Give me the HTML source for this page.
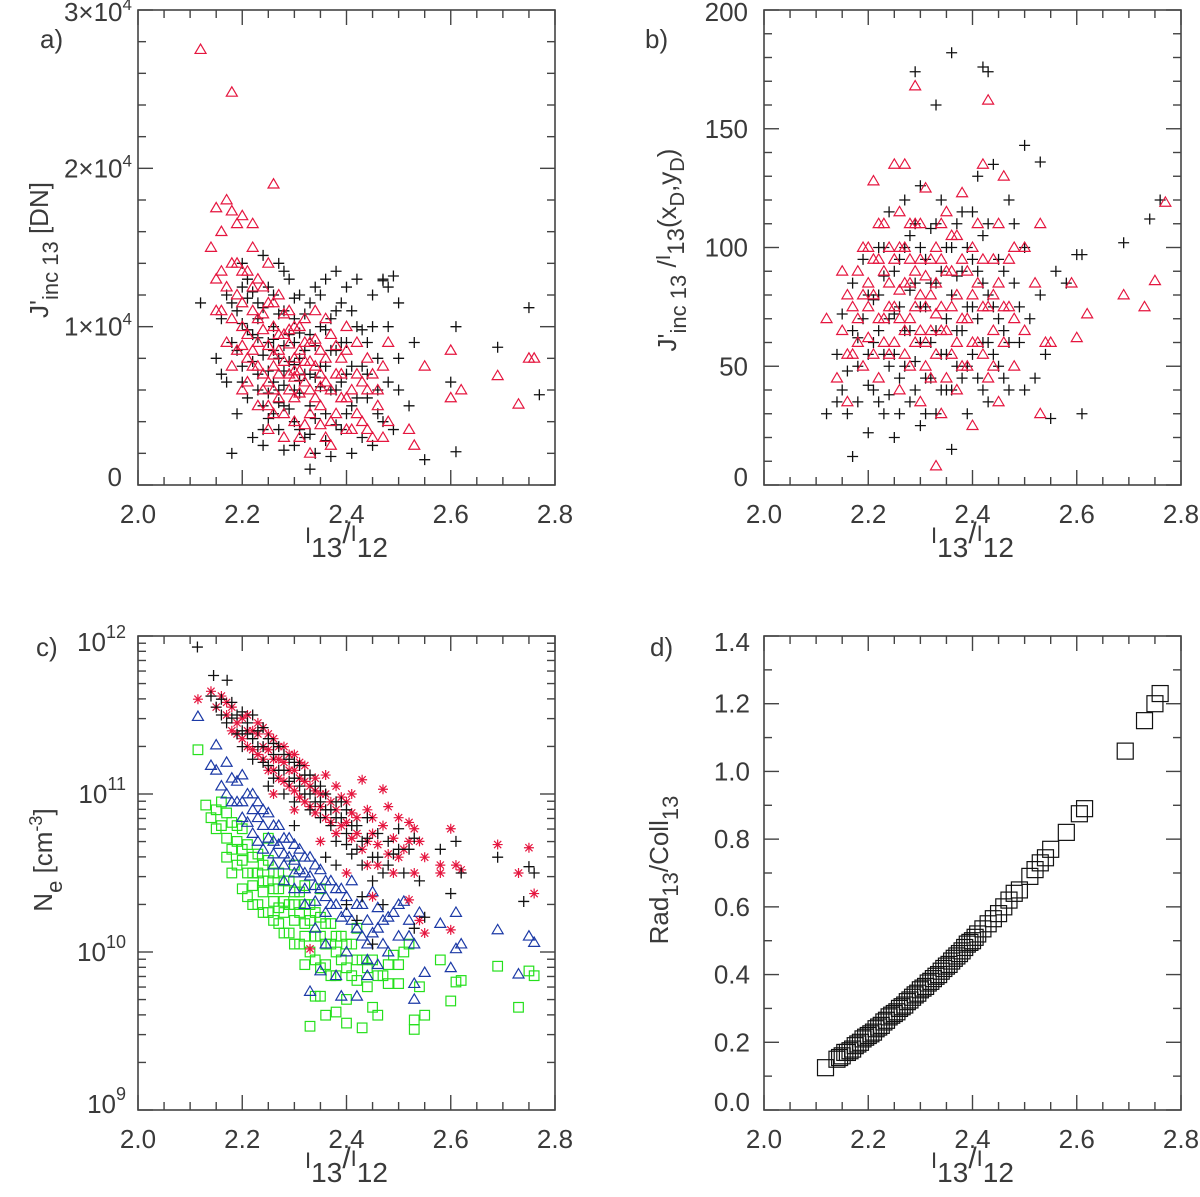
<!DOCTYPE html>
<html><head><meta charset="utf-8">
<style>
html,body{margin:0;padding:0;background:#fff;}
svg{display:block;font-family:"Liberation Sans",sans-serif;}
.tk{font-size:26px;fill:#3a3a3a;}
</style></head>
<body>
<svg id="fig" width="1200" height="1197" viewBox="0 0 1200 1197" xmlns="http://www.w3.org/2000/svg"></svg>
<script>
// ---------- data ----------
const xTicks=[2.0,2.2,2.4,2.6,2.8];
const xTickLabels=["2.0","2.2","2.4","2.6","2.8"];
const aYTicks=[0,10000,20000,30000];
const bYTicks=[0,50,100,150,200];
const bYTickLabels=["0","50","100","150","200"];
const cYTicks=[9,10,11,12];
const dYTicks=[0,0.2,0.4,0.6,0.8,1.0,1.2,1.4];
const dYTickLabels=["0.0","0.2","0.4","0.6","0.8","1.0","1.2","1.4"];

// panel a (values in units of 1e3 DN)
const aBlack=[[2.15,8],[2.16,10.5],[2.17,12],[2.17,6.5],[2.18,2],[2.18,9],[2.19,11],[2.19,4.5],[2.2,14],[2.2,7.5],[2.21,13],[2.21,5.5],[2.22,9.5],[2.22,3],[2.23,11.5],[2.23,7],[2.24,14.5],[2.24,5],[2.24,2.5],[2.25,9],[2.25,12.5],[2.26,6.5],[2.26,10],[2.27,3.5],[2.27,14],[2.27,8],[2.28,5],[2.28,11],[2.28,2.2],[2.29,9.5],[2.29,13],[2.3,6],[2.3,4],[2.3,10.5],[2.31,8],[2.31,12],[2.32,3],[2.32,7],[2.33,1],[2.33,9.5],[2.33,5],[2.34,12.5],[2.34,2],[2.35,7.5],[2.35,10],[2.36,4.5],[2.36,13],[2.37,8.5],[2.37,1.8],[2.38,6],[2.38,11],[2.39,3.5],[2.39,9],[2.4,12.5],[2.4,7],[2.41,2],[2.41,5],[2.42,10],[2.42,13],[2.43,7.5],[2.43,3],[2.44,9],[2.44,5.5],[2.45,12],[2.45,2.5],[2.46,8],[2.46,6],[2.47,4],[2.47,13],[2.48,10],[2.48,6.5],[2.49,3.5],[2.5,8],[2.5,11.5],[2.52,5],[2.53,9],[2.55,1.6],[2.2,10.2],[2.26,8.5],[2.3,7.6],[2.34,6.8],[2.23,9.3],[2.28,7.2],[2.31,5.8],[2.36,9.8],[2.4,4.5],[2.21,11.8],[2.25,4.2],[2.12,11.5],[2.75,11.2],[2.77,5.7],[2.69,8.7],[2.61,10.0],[2.61,2.1],[2.49,13.2],[2.47,12.9],[2.6,6.5]];
const aBlackDense=[[2.19,8.5],[2.2,6.5],[2.21,9.8],[2.22,7.8],[2.22,12.2],[2.23,6],[2.23,10.5],[2.24,8.2],[2.24,11.2],[2.25,7.2],[2.25,5.8],[2.26,9.2],[2.26,4.5],[2.26,12],[2.27,6],[2.27,10.8],[2.28,8.8],[2.28,6.3],[2.28,13.5],[2.29,7.8],[2.29,4.8],[2.3,9],[2.3,11.8],[2.31,6.6],[2.31,9.6],[2.31,3.5],[2.32,8.5],[2.32,10.8],[2.33,7],[2.33,11.5],[2.34,8.8],[2.34,4.2],[2.35,6.2],[2.35,12],[2.36,7.5],[2.36,2.8],[2.37,6],[2.37,10.5],[2.38,8.5],[2.38,3.8],[2.39,6.5],[2.39,11.5],[2.4,9],[2.41,7.5],[2.41,11],[2.42,5.5],[2.43,9.8],[2.44,7],[2.45,10],[2.46,4.5],[2.48,12.5],[2.5,6],[2.2,12.5],[2.18,11.5],[2.16,7],[2.24,3.5],[2.3,2.5],[2.27,5.2],[2.33,3.2],[2.38,13.5]];
const aRed=[[2.14,15],[2.15,13],[2.16,11],[2.16,16],[2.17,9],[2.18,14],[2.18,7.5],[2.19,12],[2.19,16.5],[2.2,10],[2.2,6],[2.21,13.5],[2.21,8],[2.22,15],[2.22,11],[2.23,5],[2.23,9],[2.24,12.5],[2.24,7],[2.25,14],[2.25,3.5],[2.26,10],[2.26,6],[2.27,8.5],[2.27,12],[2.28,4.5],[2.28,9.5],[2.29,7],[2.29,11],[2.3,5.5],[2.3,8],[2.31,3],[2.31,10],[2.32,6.5],[2.32,9],[2.33,2],[2.33,4.5],[2.34,7.5],[2.34,11],[2.35,5],[2.35,8.5],[2.36,3],[2.36,6.5],[2.37,9.5],[2.37,2.5],[2.38,7],[2.38,4.5],[2.39,8],[2.4,5.5],[2.4,10],[2.41,3.5],[2.42,7],[2.42,9],[2.43,4],[2.44,6],[2.44,8],[2.45,3],[2.46,5],[2.47,7.5],[2.48,4],[2.48,9],[2.2,8.8],[2.24,9.8],[2.27,7],[2.3,6.8],[2.33,7.8],[2.26,8.2],[2.22,7.5],[2.29,8.9],[2.35,6.2],[2.31,7.2],[2.25,6.5],[2.12,27.5],[2.18,24.8],[2.26,19.0],[2.17,18.0],[2.15,17.5],[2.18,17.3],[2.2,17.0],[2.22,16.5],[2.6,8.5],[2.69,6.9],[2.73,5.1],[2.75,8.0],[2.76,8.0],[2.55,7.5],[2.6,5.5],[2.62,6.0],[2.53,2.5],[2.52,3.5]];
const aRedDense=[[2.17,12.5],[2.18,10.5],[2.19,8.5],[2.2,11.5],[2.2,13.5],[2.21,9.5],[2.21,6.5],[2.22,8.5],[2.22,12.5],[2.23,10.5],[2.23,7.5],[2.24,6],[2.24,10.8],[2.25,8.8],[2.25,11.5],[2.25,5],[2.26,7.5],[2.26,11.5],[2.26,4.5],[2.27,9.5],[2.27,5.5],[2.28,7.8],[2.28,10.8],[2.28,3],[2.29,6],[2.29,9.8],[2.3,7.2],[2.3,10],[2.3,4],[2.31,8.5],[2.31,5.8],[2.32,7.8],[2.32,3.8],[2.32,10.5],[2.33,6],[2.33,9],[2.34,5.5],[2.34,9.2],[2.35,7],[2.35,3.8],[2.36,8],[2.36,10.5],[2.37,6],[2.37,4],[2.38,8.8],[2.39,5.5],[2.39,7],[2.4,3.5],[2.4,8.5],[2.41,6],[2.42,4.5],[2.43,6.5],[2.44,3.5],[2.45,7],[2.46,6],[2.47,3],[2.15,11],[2.16,13.5],[2.19,14],[2.23,13]];

// panel b
const bBlack=[[2.12,30],[2.14,55],[2.15,40],[2.15,72],[2.16,48],[2.17,12],[2.17,85],[2.18,35],[2.18,62],[2.19,95],[2.2,22],[2.2,55],[2.21,78],[2.21,40],[2.22,100],[2.22,65],[2.23,30],[2.23,88],[2.24,50],[2.24,115],[2.25,72],[2.25,20],[2.26,95],[2.26,45],[2.27,120],[2.27,65],[2.28,35],[2.28,82],[2.29,110],[2.29,52],[2.3,126],[2.3,25],[2.3,75],[2.31,95],[2.31,45],[2.32,60],[2.32,108],[2.33,30],[2.33,85],[2.34,120],[2.34,55],[2.35,70],[2.35,40],[2.36,100],[2.36,15],[2.37,65],[2.37,88],[2.38,45],[2.38,115],[2.39,75],[2.39,30],[2.4,95],[2.4,55],[2.41,130],[2.41,70],[2.42,85],[2.42,40],[2.43,110],[2.43,60],[2.44,75],[2.44,135],[2.45,50],[2.45,95],[2.46,65],[2.47,120],[2.47,40],[2.48,85],[2.49,60],[2.5,143],[2.5,100],[2.51,70],[2.52,45],[2.53,136],[2.53,80],[2.54,55],[2.55,28],[2.56,90],[2.58,85],[2.6,97],[2.61,97],[2.61,30],[2.69,102],[2.74,112],[2.76,120],[2.29,174],[2.36,182],[2.42,176],[2.43,174],[2.33,160]];
const bBlackDense=[[2.18,50],[2.19,70],[2.2,42],[2.2,80],[2.21,60],[2.22,35],[2.22,80],[2.23,55],[2.23,100],[2.24,70],[2.24,38],[2.25,90],[2.25,55],[2.26,75],[2.26,30],[2.27,100],[2.27,50],[2.28,65],[2.28,105],[2.29,40],[2.29,85],[2.3,60],[2.3,100],[2.31,75],[2.31,30],[2.32,85],[2.32,45],[2.33,65],[2.33,110],[2.34,40],[2.34,90],[2.35,55],[2.35,100],[2.36,80],[2.36,40],[2.37,110],[2.37,50],[2.38,90],[2.38,65],[2.39,100],[2.39,50],[2.4,75],[2.4,115],[2.41,45],[2.41,90],[2.42,60],[2.42,105],[2.43,80],[2.43,35],[2.44,55],[2.45,70],[2.46,90],[2.46,45],[2.47,60],[2.48,110],[2.49,75],[2.5,40],[2.16,30],[2.17,65],[2.14,35]];
const bRed=[[2.12,70],[2.14,45],[2.15,65],[2.16,80],[2.16,35],[2.17,55],[2.18,90],[2.18,70],[2.19,50],[2.2,100],[2.2,62],[2.21,128],[2.21,80],[2.22,45],[2.22,95],[2.23,70],[2.23,110],[2.24,55],[2.24,85],[2.25,135],[2.25,75],[2.26,40],[2.26,100],[2.27,135],[2.27,65],[2.28,85],[2.28,50],[2.29,168],[2.29,110],[2.29,75],[2.3,95],[2.3,35],[2.31,60],[2.31,125],[2.32,80],[2.32,45],[2.33,8],[2.33,100],[2.34,65],[2.34,30],[2.35,90],[2.35,115],[2.36,55],[2.36,75],[2.37,40],[2.37,105],[2.38,123],[2.38,70],[2.39,50],[2.39,90],[2.4,80],[2.4,25],[2.41,60],[2.41,110],[2.42,135],[2.42,75],[2.43,162],[2.43,45],[2.44,95],[2.44,65],[2.45,85],[2.45,35],[2.46,130],[2.46,60],[2.47,75],[2.48,100],[2.48,50],[2.5,100],[2.5,65],[2.52,85],[2.53,110],[2.53,30],[2.54,60],[2.55,60],[2.59,85],[2.6,62],[2.62,72],[2.69,80],[2.73,75],[2.75,86],[2.77,119],[2.26,82],[2.31,88],[2.28,95],[2.33,72]];
const bRedDense=[[2.17,75],[2.18,60],[2.19,80],[2.19,100],[2.2,75],[2.21,55],[2.21,95],[2.22,70],[2.22,110],[2.23,60],[2.23,90],[2.24,75],[2.24,100],[2.25,60],[2.25,95],[2.26,70],[2.26,115],[2.27,85],[2.27,55],[2.28,70],[2.28,110],[2.29,60],[2.29,90],[2.3,80],[2.3,110],[2.31,50],[2.31,75],[2.32,95],[2.32,65],[2.33,85],[2.33,55],[2.34,95],[2.34,75],[2.35,65],[2.35,45],[2.36,90],[2.36,105],[2.37,80],[2.37,60],[2.38,95],[2.38,50],[2.39,70],[2.4,100],[2.4,60],[2.41,85],[2.42,55],[2.42,95],[2.43,75],[2.44,80],[2.44,50],[2.45,110],[2.46,75],[2.47,95],[2.48,70],[2.2,85],[2.15,90],[2.16,55],[2.27,100],[2.3,65],[2.34,110]];

// panel c (log10 Ne)
const cBlack=[[2.114,11.93],[2.145,11.75],[2.171,11.72],[2.14,11.62],[2.15,11.55],[2.16,11.6],[2.17,11.45],[2.18,11.58],[2.19,11.5],[2.2,11.52],[2.2,11.4],[2.21,11.45],[2.22,11.35],[2.22,11.5],[2.23,11.3],[2.24,11.42],[2.24,11.2],[2.25,11.35],[2.26,11.25],[2.26,11.1],[2.27,11.3],[2.28,11.15],[2.28,11.0],[2.29,11.22],[2.3,11.1],[2.3,10.95],[2.31,11.18],[2.32,11.0],[2.33,10.9],[2.33,11.12],[2.34,10.95],[2.35,10.85],[2.35,11.05],[2.36,10.9],[2.37,10.8],[2.38,10.95],[2.38,10.7],[2.39,10.85],[2.4,10.75],[2.4,10.9],[2.41,10.62],[2.42,10.8],[2.43,10.55],[2.43,10.7],[2.44,10.85],[2.45,10.6],[2.46,10.75],[2.47,10.5],[2.48,10.7],[2.49,10.62],[2.5,10.78],[2.52,10.65],[2.53,10.72],[2.54,10.45],[2.55,10.22],[2.58,10.65],[2.61,10.7],[2.62,10.5],[2.6,10.37],[2.69,10.6],[2.74,10.32],[2.75,10.54],[2.76,10.5],[2.45,10.05],[2.4,10.3],[2.36,10.6],[2.3,10.8],[2.25,11.05],[2.53,10.15],[2.42,10.2]];
const cBlackDense=[[2.16,11.5],[2.18,11.48],[2.19,11.38],[2.2,11.3],[2.21,11.38],[2.22,11.22],[2.23,11.4],[2.24,11.3],[2.25,11.18],[2.26,11.32],[2.27,11.15],[2.28,11.25],[2.29,11.08],[2.3,11.2],[2.31,11.05],[2.32,11.12],[2.33,11.0],[2.34,11.05],[2.35,10.95],[2.36,11.0],[2.37,10.9],[2.38,10.85],[2.39,10.95],[2.4,10.68],[2.41,10.8],[2.42,10.65],[2.44,10.72],[2.46,10.6],[2.48,10.55],[2.5,10.65],[2.45,10.45],[2.43,10.35],[2.47,10.3],[2.51,10.5],[2.38,10.55]];
const cRed=[[2.115,11.6],[2.14,11.65],[2.15,11.55],[2.16,11.62],[2.17,11.5],[2.18,11.4],[2.18,11.55],[2.19,11.45],[2.2,11.35],[2.21,11.5],[2.21,11.3],[2.22,11.4],[2.23,11.25],[2.23,11.45],[2.24,11.3],[2.25,11.15],[2.25,11.38],[2.26,11.22],[2.27,11.1],[2.27,11.3],[2.28,11.2],[2.29,11.05],[2.29,11.25],[2.3,11.15],[2.31,10.98],[2.31,11.2],[2.32,11.08],[2.33,10.92],[2.34,11.1],[2.35,11.0],[2.36,10.85],[2.36,11.12],[2.37,10.95],[2.38,11.05],[2.39,10.8],[2.4,10.95],[2.41,10.72],[2.41,11.0],[2.42,10.85],[2.43,11.09],[2.43,10.65],[2.44,10.9],[2.45,10.75],[2.46,10.55],[2.47,11.03],[2.47,10.8],[2.48,10.92],[2.48,10.62],[2.49,10.72],[2.5,10.85],[2.51,10.65],[2.52,10.82],[2.53,10.78],[2.53,10.5],[2.54,10.7],[2.54,10.2],[2.55,10.12],[2.52,10.33],[2.58,10.5],[2.58,10.55],[2.6,10.78],[2.61,10.55],[2.62,10.52],[2.6,10.14],[2.69,10.68],[2.73,10.5],[2.75,10.66],[2.76,10.37],[2.33,10.02],[2.45,10.35],[2.4,10.5],[2.35,10.7],[2.3,10.9],[2.26,11.0]];
const cRedDense=[[2.17,11.58],[2.19,11.38],[2.2,11.48],[2.21,11.4],[2.22,11.28],[2.23,11.38],[2.24,11.22],[2.24,11.42],[2.25,11.28],[2.26,11.35],[2.26,11.15],[2.27,11.22],[2.28,11.08],[2.28,11.3],[2.29,11.15],[2.3,11.02],[2.3,11.25],[2.31,11.1],[2.32,10.95],[2.32,11.18],[2.33,11.05],[2.34,10.88],[2.34,11.02],[2.35,10.92],[2.36,11.0],[2.37,10.82],[2.38,10.9],[2.39,10.98],[2.4,10.82],[2.41,10.88],[2.42,10.75],[2.44,10.7],[2.45,10.85],[2.46,10.68],[2.5,10.6],[2.52,10.7],[2.55,10.6],[2.49,10.5],[2.44,10.55],[2.38,10.75]];
const cBlue=[[2.115,11.49],[2.15,11.31],[2.14,11.18],[2.15,11.15],[2.16,11.05],[2.17,11.2],[2.18,11.1],[2.19,10.95],[2.2,11.12],[2.2,10.85],[2.21,11.0],[2.22,10.9],[2.22,10.75],[2.23,10.95],[2.24,10.8],[2.24,10.65],[2.25,10.88],[2.26,10.7],[2.26,10.55],[2.27,10.8],[2.28,10.62],[2.28,10.45],[2.29,10.72],[2.3,10.58],[2.3,10.4],[2.31,10.65],[2.32,10.5],[2.32,10.3],[2.33,10.6],[2.34,10.42],[2.34,10.15],[2.35,10.52],[2.36,10.35],[2.36,10.05],[2.37,10.45],[2.38,10.3],[2.38,9.85],[2.39,10.4],[2.4,10.25],[2.4,10.0],[2.41,10.45],[2.42,10.15],[2.42,9.72],[2.43,10.3],[2.44,10.05],[2.44,9.85],[2.45,10.38],[2.46,10.15],[2.46,9.92],[2.47,10.2],[2.48,10.0],[2.49,10.25],[2.5,10.1],[2.51,10.32],[2.52,10.2],[2.53,10.05],[2.53,9.8],[2.53,9.7],[2.54,10.25],[2.55,9.87],[2.58,10.18],[2.61,10.25],[2.62,10.05],[2.61,10.02],[2.6,9.9],[2.69,10.14],[2.73,9.86],[2.75,10.1],[2.76,10.06],[2.33,9.75],[2.39,9.72],[2.35,9.88]];
const cBlueDense=[[2.17,11.0],[2.18,10.95],[2.19,11.08],[2.2,10.95],[2.21,10.82],[2.22,11.0],[2.23,10.7],[2.23,10.85],[2.24,10.9],[2.25,10.72],[2.26,10.8],[2.26,10.62],[2.27,10.68],[2.28,10.72],[2.28,10.55],[2.29,10.6],[2.3,10.68],[2.3,10.5],[2.31,10.52],[2.32,10.6],[2.32,10.4],[2.33,10.48],[2.34,10.55],[2.34,10.32],[2.35,10.4],[2.36,10.45],[2.36,10.25],[2.37,10.3],[2.38,10.4],[2.39,10.22],[2.4,10.35],[2.41,10.2],[2.42,10.3],[2.43,10.1],[2.44,10.2],[2.45,10.12],[2.46,10.28],[2.47,10.05],[2.48,10.22],[2.5,10.3],[2.52,10.1],[2.44,9.95]];
const cGreen=[[2.115,11.28],[2.13,10.93],[2.14,10.85],[2.15,10.9],[2.15,10.78],[2.16,10.95],[2.17,10.72],[2.17,10.6],[2.18,10.82],[2.18,10.5],[2.19,10.7],[2.2,10.78],[2.2,10.58],[2.2,10.4],[2.21,10.68],[2.22,10.5],[2.22,10.3],[2.23,10.62],[2.24,10.45],[2.24,10.25],[2.25,10.58],[2.26,10.4],[2.26,10.2],[2.27,10.5],[2.28,10.32],[2.28,10.12],[2.29,10.45],[2.3,10.3],[2.3,10.05],[2.31,10.38],[2.32,10.18],[2.32,9.92],[2.33,10.3],[2.33,9.53],[2.34,10.1],[2.34,9.72],[2.35,10.22],[2.35,9.9],[2.36,10.05],[2.36,9.6],[2.37,10.18],[2.37,9.85],[2.38,10.0],[2.38,9.62],[2.39,10.1],[2.4,9.9],[2.4,9.55],[2.41,10.05],[2.42,9.82],[2.42,10.15],[2.43,9.52],[2.43,9.95],[2.44,9.78],[2.45,9.95],[2.45,9.65],[2.46,9.6],[2.47,9.85],[2.48,9.92],[2.49,9.98],[2.5,9.8],[2.51,10.0],[2.52,10.05],[2.53,9.57],[2.53,9.51],[2.54,9.78],[2.55,9.6],[2.58,9.95],[2.6,9.69],[2.61,9.81],[2.62,9.82],[2.69,9.91],[2.73,9.65],[2.75,9.88],[2.76,9.85],[2.25,10.72],[2.3,10.55],[2.35,10.4],[2.27,10.28],[2.32,10.42]];
const cGreenDense=[[2.16,10.8],[2.17,10.88],[2.18,10.65],[2.19,10.55],[2.19,10.8],[2.2,10.65],[2.21,10.5],[2.21,10.35],[2.22,10.6],[2.22,10.42],[2.23,10.5],[2.23,10.3],[2.24,10.55],[2.24,10.38],[2.25,10.45],[2.25,10.25],[2.26,10.5],[2.26,10.32],[2.27,10.4],[2.27,10.18],[2.28,10.45],[2.28,10.25],[2.29,10.3],[2.29,10.12],[2.3,10.38],[2.3,10.2],[2.31,10.25],[2.31,10.05],[2.32,10.3],[2.32,10.1],[2.33,10.2],[2.33,10.0],[2.34,10.25],[2.34,9.95],[2.35,10.1],[2.36,10.18],[2.36,9.92],[2.37,10.05],[2.38,10.1],[2.38,9.85],[2.39,9.95],[2.4,10.05],[2.41,9.85],[2.42,9.95],[2.44,9.9],[2.46,9.85],[2.48,9.8],[2.5,9.92],[2.35,9.72],[2.4,9.7]];

// panel d
const dSquares=[[2.118,0.125],[2.14,0.15],[2.145,0.155],[2.15,0.16],[2.155,0.17],[2.16,0.17],[2.165,0.175],[2.17,0.18],[2.175,0.19],[2.18,0.195],[2.185,0.2],[2.19,0.21],[2.195,0.215],[2.2,0.22],[2.205,0.225],[2.21,0.23],[2.215,0.24],[2.22,0.245],[2.225,0.25],[2.23,0.26],[2.235,0.265],[2.24,0.275],[2.245,0.28],[2.25,0.285],[2.255,0.29],[2.26,0.3],[2.265,0.305],[2.27,0.31],[2.275,0.32],[2.28,0.325],[2.285,0.333],[2.29,0.34],[2.295,0.345],[2.3,0.355],[2.305,0.36],[2.31,0.365],[2.315,0.375],[2.32,0.38],[2.325,0.388],[2.33,0.395],[2.335,0.4],[2.34,0.41],[2.345,0.418],[2.35,0.425],[2.355,0.43],[2.36,0.44],[2.365,0.448],[2.37,0.455],[2.375,0.462],[2.38,0.47],[2.385,0.48],[2.39,0.49],[2.395,0.495],[2.4,0.5],[2.405,0.51],[2.41,0.52],[2.42,0.535],[2.43,0.55],[2.44,0.565],[2.45,0.58],[2.46,0.6],[2.47,0.62],[2.48,0.64],[2.49,0.65],[2.51,0.69],[2.52,0.71],[2.53,0.73],[2.54,0.745],[2.55,0.77],[2.58,0.82],[2.605,0.875],[2.615,0.89],[2.693,1.06],[2.73,1.15],[2.75,1.2],[2.76,1.23]];

// ---------- drawing ----------
const NS="http://www.w3.org/2000/svg";
const svg=document.getElementById('fig');
function mk(tag,attrs,parent){const e=document.createElementNS(NS,tag);for(const k in attrs)e.setAttribute(k,attrs[k]);(parent||svg).appendChild(e);return e;}

const panels={
 a:{x0:138,x1:555,y0:10,y1:485,ymin:0,ymax:30000},
 b:{x0:764,x1:1181,y0:10,y1:485,ymin:0,ymax:200},
 c:{x0:138,x1:555,y0:636,y1:1110,ymin:9,ymax:12},
 d:{x0:764,x1:1181,y0:636,y1:1110,ymin:0,ymax:1.4}
};
function sx(p,v){return p.x0+(v-2.0)/(0.8)*(p.x1-p.x0);}
function sy(p,v){return p.y1-(v-p.ymin)/(p.ymax-p.ymin)*(p.y1-p.y0);}

function frame(key){
 const p=panels[key];
 const g=mk('g',{});
 
 
 const r=mk('rect',{x:p.x0,y:p.y0,width:p.x1-p.x0,height:p.y1-p.y0,fill:'none',stroke:'#444','stroke-width':1.6},g);
 
 
 for(let i=0;i<=16;i++){
  const v=2.0+i*0.05;const X=sx(p,v);const L=(i%4===0)?15:8;
  mk('line',{x1:X,x2:X,y1:p.y1,y2:p.y1-L,stroke:'#444','stroke-width':1.4},g);
  mk('line',{x1:X,x2:X,y1:p.y0,y2:p.y0+L,stroke:'#444','stroke-width':1.4},g);
 }
 xTicks.forEach((v,i)=>{
  const t=mk('text',{x:sx(p,v),y:p.y1+38,'text-anchor':'middle',class:'tk'},g);
  t.textContent=xTickLabels[i];
  
  
 });
 const xl=mk('text',{x:(p.x0+p.x1)/2,y:p.y1+68,'text-anchor':'middle',class:'tk','font-size':'30'},g);
 xl.innerHTML='<tspan font-size="22" dy="-10">I</tspan><tspan font-size="28" dy="14">13</tspan><tspan font-size="30" dy="-14">/</tspan><tspan font-size="22" dy="-2">I</tspan><tspan font-size="28" dy="16">12</tspan>';
 
 
 return {p,g};
}
function yTick(p,g,Y,L){
 mk('line',{x1:p.x0,x2:p.x0+L,y1:Y,y2:Y,stroke:'#444','stroke-width':1.4},g);
 mk('line',{x1:p.x1,x2:p.x1-L,y1:Y,y2:Y,stroke:'#444','stroke-width':1.4},g);
}
function yLabel(p,g,Y,html,dx){
 const t=mk('text',{x:p.x0-(dx||12),y:Y+9,'text-anchor':'end',class:'tk'},g);
 t.innerHTML=html;
 
 
}
function panelLetter(x,y,s){
 const t=mk('text',{x:x,y:y,class:'tk','font-size':'26'});t.textContent=s;
 
 
}
function yTitle(cx,cy,html,name){
 const t=mk('text',{x:0,y:0,'text-anchor':'middle',class:'tk','font-size':'28',transform:`translate(${cx},${cy}) rotate(-90)`});
 t.innerHTML=html;
 
 
}

function plus(g,X,Y,c){const s=5.5;return mk('path',{d:`M${X-s},${Y}H${X+s}M${X},${Y-s}V${Y+s}`,stroke:c,'stroke-width':1.3,fill:'none'},g);}
function tri(g,X,Y,c){const s=5.5;return mk('path',{d:`M${X},${Y-s}L${X+s},${Y+s*0.7}L${X-s},${Y+s*0.7}Z`,stroke:c,'stroke-width':1.2,fill:'none'},g);}
function sq(g,X,Y,c,s){return mk('rect',{x:X-s,y:Y-s,width:2*s,height:2*s,stroke:c,'stroke-width':1.2,fill:'none'},g);}
function star(g,X,Y,c){const s=5,d=3.6;return mk('path',{d:`M${X-s},${Y}H${X+s}M${X},${Y-s}V${Y+s}M${X-d},${Y-d}L${X+d},${Y+d}M${X-d},${Y+d}L${X+d},${Y-d}`,stroke:c,'stroke-width':1.2,fill:'none'},g);}

function series(key,data,fn,color,name,extra){
 const p=panels[key];
 const g=mk('g',{});
 
 
 data.forEach(d=>{
  const e=fn(g,sx(p,d[0]),sy(p,d[1]*(extra||1)),color,7.5);
  
  
 });
}

const RED='#e5163f',BLUE='#1c3aa6',GREEN='#25e01c',BLK='#111';

// Panel a
{const {p,g}=frame('a');
 for(let v=0;v<=30000;v+=2000){yTick(p,g,sy(p,v),v%10000===0?15:8);}
 const labs=['0','1×10<tspan font-size="17" dy="-11">4</tspan>','2×10<tspan font-size="17" dy="-11">4</tspan>','3×10<tspan font-size="17" dy="-11">4</tspan>'];
 aYTicks.forEach((v,i)=>yLabel(p,g,sy(p,v)-(i===0?8:(i===3?-2:0)),labs[i],i===0?16:6));
}
series('a',aBlack.concat(aBlackDense),plus,BLK,'series-a-black',1000);
series('a',aRed.concat(aRedDense),tri,RED,'series-a-red',1000);
panelLetter(40,48,'a)');
yTitle(48,250,'J\'<tspan font-size="22" dy="10">inc 13</tspan><tspan dy="-10">  [DN]</tspan>','y-axis-title-a');

// Panel b
{const {p,g}=frame('b');
 for(let v=0;v<=200;v+=10){yTick(p,g,sy(p,v),v%50===0?15:8);}
 bYTicks.forEach((v,i)=>yLabel(p,g,sy(p,v)-(i===0?8:(i===4?-2:0)),bYTickLabels[i],16));
}
series('b',bBlack.concat(bBlackDense),plus,BLK,'series-b-black');
series('b',bRed.concat(bRedDense),tri,RED,'series-b-red');
panelLetter(645,48,'b)');
yTitle(676,250,'J\'<tspan font-size="22" dy="10">inc 13</tspan><tspan dy="-10">  /</tspan><tspan font-size="20" dy="-6">I</tspan><tspan font-size="24" dy="14">13</tspan><tspan dy="-8">(x</tspan><tspan font-size="20" dy="8">D</tspan><tspan dy="-8">,y</tspan><tspan font-size="20" dy="8">D</tspan><tspan dy="-8">)</tspan>','y-axis-title-b');

// Panel c
{const {p,g}=frame('c');
 for(let dec=9;dec<12;dec++){for(let m=1;m<10;m++){const v=dec+Math.log10(m);yTick(p,g,sy(p,v),m===1?15:8);}}
 yTick(p,g,sy(p,12),15);
 cYTicks.forEach((v,i)=>yLabel(p,g,sy(p,v)+(i===0?-6:(i===3?6:0)),'10<tspan font-size="18" dy="-13">'+v+'</tspan>',12));
}
series('c',cGreen.concat(cGreenDense),(g,X,Y,c)=>sq(g,X,Y,c,4.8),GREEN,'series-c-green');
series('c',cBlue.concat(cBlueDense),tri,BLUE,'series-c-blue');
series('c',cRed.concat(cRedDense),star,RED,'series-c-red');
series('c',cBlack.concat(cBlackDense),plus,BLK,'series-c-black');
panelLetter(36,656,'c)');
yTitle(52,860,'N<tspan font-size="22" dy="10">e</tspan><tspan dy="-10">  [cm</tspan><tspan font-size="18" dy="-10">-3</tspan><tspan dy="10">]</tspan>','y-axis-title-c');

// Panel d
{const {p,g}=frame('d');
 for(let k=0;k<=14;k++){const v=k*0.1;yTick(p,g,sy(p,v),k%2===0?15:8);}
 dYTicks.forEach((v,i)=>yLabel(p,g,sy(p,v)-(i===0?8:(i===7?-6:0)),dYTickLabels[i],14));
}
series('d',dSquares,(g,X,Y,c)=>sq(g,X,Y,c,8),BLK,'series-d-black');
panelLetter(650,656,'d)');
yTitle(668,870,'Rad<tspan font-size="22" dy="10">13</tspan><tspan dy="-10">/Coll</tspan><tspan font-size="22" dy="10">13</tspan>','y-axis-title-d');
</script>
</body></html>
